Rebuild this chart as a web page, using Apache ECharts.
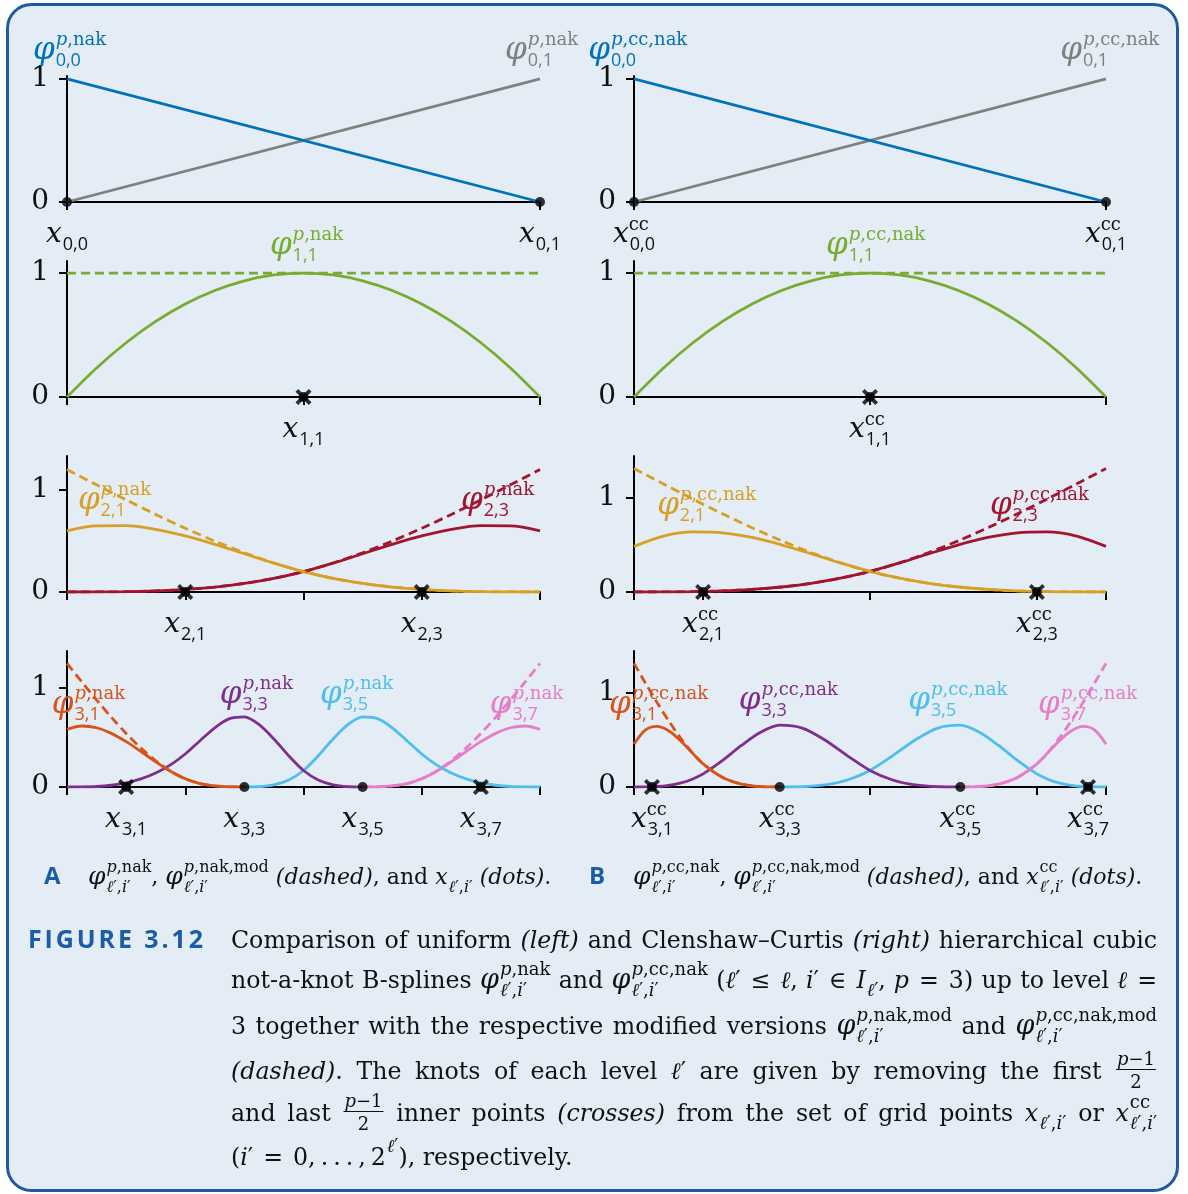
<!DOCTYPE html>
<html>
<head>
<meta charset="utf-8">
<script src="https://cdn.jsdelivr.net/npm/echarts@6/dist/echarts.min.js"></script>
<style>
  html, body { margin: 0; padding: 0; background: #ffffff; }
  #chart { width: 1188px; height: 1194px; }
</style>
</head>
<body>
<div id="chart"></div>
<script>
// ---------------- values of the basis functions ----------------
// level 0 (both grids): hat functions on [0, 1]
const xsLin = [0, 1];
const phi00 = [1, 0];
const phi01 = [0, 1];

// level 1 (both grids): quadratic bump and its modified (constant) version
const xs16 = [0, 0.0625, 0.125, 0.1875, 0.25, 0.3125, 0.375, 0.4375, 0.5,
              0.5625, 0.625, 0.6875, 0.75, 0.8125, 0.875, 0.9375, 1];
const phi11 = [0, 0.2344, 0.4375, 0.6094, 0.75, 0.8594, 0.9375, 0.9844, 1,
               0.9844, 0.9375, 0.8594, 0.75, 0.6094, 0.4375, 0.2344, 0];
const phi11mod = [1, 1];

// level 2, uniform grid (sampled on xs16)
const phi21 = [0.6, 0.6484, 0.65, 0.6141, 0.55, 0.4672, 0.375, 0.2828, 0.2,
               0.134, 0.0844, 0.0488, 0.025, 0.0105, 0.0031, 0.0004, 0];
const phi21mod = [1.2, 1.0504, 0.9031, 0.7605, 0.625, 0.4988, 0.3844, 0.284, 0.2,
                  0.134, 0.0844, 0.0488, 0.025, 0.0105, 0.0031, 0.0004, 0];
const phi23 = [0, 0.0004, 0.0031, 0.0105, 0.025, 0.0488, 0.0844, 0.134, 0.2,
               0.2828, 0.375, 0.4672, 0.55, 0.6141, 0.65, 0.6484, 0.6];
const phi23mod = [0, 0.0004, 0.0031, 0.0105, 0.025, 0.0488, 0.0844, 0.134, 0.2,
                  0.284, 0.3844, 0.4988, 0.625, 0.7605, 0.9031, 1.0504, 1.2];

// level 2, Clenshaw-Curtis grid (sampled on xs16)
const phi21cc = [0.4833, 0.5925, 0.6366, 0.6278, 0.5783, 0.5004, 0.4062, 0.308, 0.2181,
                 0.1461, 0.092, 0.0532, 0.0273, 0.0115, 0.0034, 0.0004, 0];
const phi21ccMod = [1.3084, 1.1453, 0.9847, 0.8292, 0.6815, 0.5439, 0.4191, 0.3096, 0.2181,
                    0.1461, 0.092, 0.0532, 0.0273, 0.0115, 0.0034, 0.0004, 0];
const phi23cc = [0, 0.0004, 0.0034, 0.0115, 0.0273, 0.0532, 0.092, 0.1461, 0.2181,
                 0.308, 0.4062, 0.5004, 0.5783, 0.6278, 0.6366, 0.5925, 0.4833];
const phi23ccMod = [0, 0.0004, 0.0034, 0.0115, 0.0273, 0.0532, 0.092, 0.1461, 0.2181,
                    0.3096, 0.4191, 0.5439, 0.6815, 0.8292, 0.9847, 1.1453, 1.3084];

// level 3, uniform grid
const xs32 = [0, 0.03125, 0.0625, 0.09375, 0.125, 0.15625, 0.1875, 0.21875, 0.25,
              0.28125, 0.3125, 0.34375, 0.375, 0.40625, 0.4375, 0.46875, 0.5,
              0.53125, 0.5625, 0.59375, 0.625, 0.65625, 0.6875, 0.71875, 0.75,
              0.78125, 0.8125, 0.84375, 0.875, 0.90625, 0.9375, 0.96875, 1];
const phi31 = [0.5833, 0.6165, 0.599, 0.5423, 0.4583, 0.3587, 0.2552, 0.1595, 0.0833,
               0.0352, 0.0104, 0.0013, 0, 0, 0, 0, 0,
               0, 0, 0, 0, 0, 0, 0, 0, 0, 0, 0, 0, 0, 0, 0, 0];
const phi31mod = [1.25, 1.0632, 0.8802, 0.7051, 0.5417, 0.3939, 0.2656, 0.1608, 0.0833,
                  0.0352, 0.0104, 0.0013, 0, 0, 0, 0, 0,
                  0, 0, 0, 0, 0, 0, 0, 0, 0, 0, 0, 0, 0, 0, 0, 0];
const phi33 = [0, 0.0007, 0.0052, 0.0176, 0.0417, 0.0814, 0.1406, 0.2233, 0.3333,
               0.4681, 0.599, 0.6908, 0.7083, 0.6296, 0.4844, 0.3158, 0.1667,
               0.0703, 0.0208, 0.0026, 0, 0, 0, 0, 0, 0, 0, 0, 0, 0, 0, 0, 0];
const phi35 = [0, 0, 0, 0, 0, 0, 0, 0, 0, 0, 0, 0, 0, 0.0026, 0.0208, 0.0703, 0.1667,
               0.3158, 0.4844, 0.6296, 0.7083, 0.6908, 0.599, 0.4681, 0.3333,
               0.2233, 0.1406, 0.0814, 0.0417, 0.0176, 0.0052, 0.0007, 0];
const phi37 = [0, 0, 0, 0, 0, 0, 0, 0, 0, 0, 0, 0, 0, 0, 0, 0, 0,
               0, 0, 0, 0, 0.0013, 0.0104, 0.0352, 0.0833,
               0.1595, 0.2552, 0.3587, 0.4583, 0.5423, 0.599, 0.6165, 0.5833];
const phi37mod = [0, 0, 0, 0, 0, 0, 0, 0, 0, 0, 0, 0, 0, 0, 0, 0, 0,
                  0, 0, 0, 0, 0.0013, 0.0104, 0.0352, 0.0833,
                  0.1608, 0.2656, 0.3939, 0.5417, 0.7051, 0.8802, 1.0632, 1.25];

// level 3, Clenshaw-Curtis grid
const xsCC = [0, 0.024408, 0.048816, 0.073223, 0.097631, 0.122039, 0.146447,
              0.187, 0.227553, 0.268105, 0.308658, 0.356494, 0.404329, 0.452165, 0.5,
              0.547835, 0.595671, 0.643506, 0.691342, 0.731895, 0.772447, 0.813, 0.853553,
              0.877961, 0.902369, 0.926777, 0.951184, 0.975592, 1];
const phi31cc = [0.4551, 0.6061, 0.6436, 0.5969, 0.4955, 0.3687, 0.2459,
                 0.1037, 0.0307, 0.0038, 0, 0, 0, 0, 0,
                 0, 0, 0, 0, 0, 0, 0, 0, 0, 0, 0, 0, 0, 0];
const phi31ccMod = [1.3127, 1.1024, 0.8977, 0.7041, 0.5272, 0.3726, 0.2459,
                    0.1037, 0.0307, 0.0038, 0, 0, 0, 0, 0,
                    0, 0, 0, 0, 0, 0, 0, 0, 0, 0, 0, 0, 0, 0];
const phi33cc = [0, 0.0006, 0.0051, 0.0174, 0.0412, 0.0804, 0.139,
                 0.2793, 0.4407, 0.5807, 0.6563, 0.6253, 0.499, 0.3312, 0.1756,
                 0.0741, 0.022, 0.0027, 0, 0, 0, 0, 0, 0, 0, 0, 0, 0, 0];
const phi35cc = [0, 0, 0, 0, 0, 0, 0, 0, 0, 0, 0, 0.0027, 0.022, 0.0741, 0.1756,
                 0.3312, 0.499, 0.6253, 0.6563, 0.5807, 0.4407, 0.2793, 0.139,
                 0.0804, 0.0412, 0.0174, 0.0051, 0.0006, 0];
const phi37cc = [0, 0, 0, 0, 0, 0, 0, 0, 0, 0, 0, 0, 0, 0, 0,
                 0, 0, 0, 0, 0.0038, 0.0307, 0.1037, 0.2459,
                 0.3687, 0.4955, 0.5969, 0.6436, 0.6061, 0.4551];
const phi37ccMod = [0, 0, 0, 0, 0, 0, 0, 0, 0, 0, 0, 0, 0, 0, 0,
                    0, 0, 0, 0, 0.0038, 0.0307, 0.1037, 0.2459,
                    0.3726, 0.5272, 0.7041, 0.8977, 1.1024, 1.3127];

// grid points of each level and tick positions
const gridU0 = [0, 1], gridU1 = [0.5], gridU2 = [0.25, 0.75], gridU3 = [0.125, 0.375, 0.625, 0.875];
const gridC0 = [0, 1], gridC1 = [0.5], gridC2 = [0.146447, 0.853553], gridC3 = [0.03806, 0.308658, 0.691342, 0.96194];
const ticks0 = [0, 1], ticks1 = [0, 0.5, 1];
const ticksU = [0, 0.25, 0.5, 0.75, 1];
const ticksC = [0, 0.146447, 0.5, 0.853553, 1];
const ticksY = [0, 1];
const subs0 = ['0,0', '0,1'], subs1 = ['1,1'], subs2 = ['2,1', '2,3'], subs3 = ['3,1', '3,3', '3,5', '3,7'];

// ---------------- styling ----------------
const SERIF = "'DejaVu Serif', 'Liberation Serif', serif";
const SANS = "'Open Sans', 'Noto Sans', sans-serif";
const BLUE = '#0072BD', GRAY = '#808080', GREEN = '#77AC30', GOLD = '#D6A024', RED = '#A2142F';
const ORANGE = '#D95319', PURPLE = '#7E2F8E', LBLUE = '#4DBEEE', PINK = '#E77CC7';
const INK = '#111111', FIGBLUE = '#1B5CA8';
const ROWS = [{ top: 76, h: 126 }, { top: 261, h: 136 }, { top: 456, h: 136 }, { top: 651, h: 136 }];
const COLS = [{ left: 67, w: 473 }, { left: 634, w: 472 }];

const NAK = ',nak', CCNAK = ',cc,nak';
const C = (xs, ys, color, dashed) => ({ xs, ys, color, dashed: !!dashed });

const panels = [
  { row: 0, col: 0, ymax: 1.024, ticks: ticks0,
    curves: [C(xsLin, phi01, GRAY), C(xsLin, phi00, BLUE)],
    dots: gridU0, crosses: [], xl: gridU0, xsub: subs0, cc: false,
    labels: [{ sup: NAK, sub: '0,0', color: BLUE, at: [-0.072, 1.163] },
             { sup: NAK, sub: '0,1', color: GRAY, at: [0.926, 1.163] }] },
  { row: 0, col: 1, ymax: 1.024, ticks: ticks0,
    curves: [C(xsLin, phi01, GRAY), C(xsLin, phi00, BLUE)],
    dots: gridC0, crosses: [], xl: gridC0, xsub: subs0, cc: true,
    labels: [{ sup: CCNAK, sub: '0,0', color: BLUE, at: [-0.097, 1.163] },
             { sup: CCNAK, sub: '0,1', color: GRAY, at: [0.903, 1.163] }] },
  { row: 1, col: 0, ymax: 1.097, ticks: ticks1,
    curves: [C(xs16, phi11, GREEN), C(xsLin, phi11mod, GREEN, true)],
    dots: [], crosses: gridU1, xl: gridU1, xsub: subs1, cc: false,
    labels: [{ sup: NAK, sub: '1,1', color: GREEN, at: [0.429, 1.153] }] },
  { row: 1, col: 1, ymax: 1.097, ticks: ticks1,
    curves: [C(xs16, phi11, GREEN), C(xsLin, phi11mod, GREEN, true)],
    dots: [], crosses: gridC1, xl: gridC1, xsub: subs1, cc: true,
    labels: [{ sup: CCNAK, sub: '1,1', color: GREEN, at: [0.407, 1.153] }] },
  { row: 2, col: 0, ymax: 1.333, ticks: ticksU,
    curves: [C(xs16, phi23, RED), C(xs16, phi21, GOLD), C(xs16, phi23mod, RED, true), C(xs16, phi21mod, GOLD, true)],
    dots: [], crosses: gridU2, xl: gridU2, xsub: subs2, cc: false,
    labels: [{ sup: NAK, sub: '2,1', color: GOLD, at: [0.023, 0.814] },
             { sup: NAK, sub: '2,3', color: RED, at: [0.833, 0.814] }] },
  { row: 2, col: 1, ymax: 1.442, ticks: ticksC,
    curves: [C(xs16, phi23cc, RED), C(xs16, phi21cc, GOLD), C(xs16, phi23ccMod, RED, true), C(xs16, phi21ccMod, GOLD, true)],
    dots: [], crosses: gridC2, xl: gridC2, xsub: subs2, cc: true,
    labels: [{ sup: CCNAK, sub: '2,1', color: GOLD, at: [0.049, 0.827] },
             { sup: CCNAK, sub: '2,3', color: RED, at: [0.754, 0.827] }] },
  { row: 3, col: 0, ymax: 1.375, ticks: ticksU,
    curves: [C(xs32, phi37, PINK), C(xs32, phi35, LBLUE), C(xs32, phi33, PURPLE), C(xs32, phi31, ORANGE),
             C(xs32, phi37mod, PINK, true), C(xs32, phi31mod, ORANGE, true)],
    dots: [gridU3[1], gridU3[2]], crosses: [gridU3[0], gridU3[3]], xl: gridU3, xsub: subs3, cc: false,
    labels: [{ sup: NAK, sub: '3,1', color: ORANGE, at: [-0.032, 0.748] },
             { sup: NAK, sub: '3,3', color: PURPLE, at: [0.323, 0.849] },
             { sup: NAK, sub: '3,5', color: LBLUE, at: [0.535, 0.849] },
             { sup: NAK, sub: '3,7', color: PINK, at: [0.894, 0.748] }] },
  { row: 3, col: 1, ymax: 1.444, ticks: ticksC,
    curves: [C(xsCC, phi37cc, PINK), C(xsCC, phi35cc, LBLUE), C(xsCC, phi33cc, PURPLE), C(xsCC, phi31cc, ORANGE),
             C(xsCC, phi37ccMod, PINK, true), C(xsCC, phi31ccMod, ORANGE, true)],
    dots: [gridC3[1], gridC3[2]], crosses: [gridC3[0], gridC3[3]], xl: gridC3, xsub: subs3, cc: true,
    labels: [{ sup: CCNAK, sub: '3,1', color: ORANGE, at: [-0.053, 0.786] },
             { sup: CCNAK, sub: '3,3', color: PURPLE, at: [0.222, 0.828] },
             { sup: CCNAK, sub: '3,5', color: LBLUE, at: [0.581, 0.828] },
             { sup: CCNAK, sub: '3,7', color: PINK, at: [0.856, 0.786] }] }
];

const CROSS = 'path://M2,0 L6,4 L10,0 L12,2 L8,6 L12,10 L10,12 L6,8 L2,12 L0,10 L4,6 L0,2 Z';

// keep the samples on a curve's support (plus its end points), so flat parts
// outside the support don't paint over the axis
function supportPairs(xs, ys) {
  const out = [];
  for (let k = 0; k < xs.length; k++) {
    if (ys[k] !== 0 || (k > 0 && ys[k - 1] !== 0) || (k < xs.length - 1 && ys[k + 1] !== 0)) out.push([xs[k], ys[k]]);
  }
  return out;
}

// ---------------- chart: grids, axes and series ----------------
const chart = echarts.init(document.getElementById('chart'), null, { renderer: 'canvas' });
const grid = [], xAxis = [], yAxis = [], series = [];
panels.forEach((p, i) => {
  const r = ROWS[p.row], c = COLS[p.col];
  grid.push({ left: c.left, top: r.top, width: c.w, height: r.h, containLabel: false });
  xAxis.push({
    gridIndex: i, type: 'value', min: 0, max: 1,
    axisLine: { onZero: false, lineStyle: { color: '#000', width: 2 } },
    axisTick: { show: true, customValues: p.ticks, length: 8, lineStyle: { color: '#000', width: 2 } },
    axisLabel: { show: false }, splitLine: { show: false }
  });
  yAxis.push({
    gridIndex: i, type: 'value', min: 0, max: p.ymax,
    axisLine: { show: true, onZero: false, lineStyle: { color: '#000', width: 2 } },
    axisTick: { show: true, customValues: ticksY, length: 8, lineStyle: { color: '#000', width: 2 } },
    axisLabel: { show: true, customValues: ticksY, margin: 18, fontSize: 28, fontFamily: SERIF, color: INK },
    splitLine: { show: false }
  });
  p.curves.forEach(cv => {
    series.push({
      type: 'line', xAxisIndex: i, yAxisIndex: i, silent: true,
      data: supportPairs(cv.xs, cv.ys),
      showSymbol: false, smooth: cv.xs.length > 2 ? 0.3 : false,
      lineStyle: { color: cv.color, width: 2.8, type: cv.dashed ? [9, 5] : 'solid' },
      itemStyle: { color: cv.color }, z: cv.dashed ? 4 : 3
    });
  });
  const markerPts = p.dots.concat(p.crosses);
  if (markerPts.length) {
    series.push({ type: 'scatter', xAxisIndex: i, yAxisIndex: i, silent: true, z: 6,
      data: markerPts.map(x => [x, 0]), symbol: 'circle', symbolSize: 10, itemStyle: { color: '#000' } });
  }
  if (p.crosses.length) {
    series.push({ type: 'scatter', xAxisIndex: i, yAxisIndex: i, silent: true, z: 7,
      data: p.crosses.map(x => [x, 0]), symbol: CROSS, symbolSize: 16, itemStyle: { color: '#000' } });
  }
});

chart.setOption({
  animation: false,
  backgroundColor: '#ffffff',
  grid, xAxis, yAxis, series
});

// ---------------- typesetting helpers for the formula labels ----------------
const mctx = document.createElement('canvas').getContext('2d');
function measure(s, font) { mctx.font = font; return mctx.measureText(s).width; }
const offCache = {};
function midOff(font) {
  if (offCache[font] != null) return offCache[font];
  mctx.font = font;
  mctx.textBaseline = 'alphabetic';
  const a = mctx.measureText('Hx').actualBoundingBoxAscent;
  mctx.textBaseline = 'middle';
  const b = mctx.measureText('Hx').actualBoundingBoxAscent;
  mctx.textBaseline = 'alphabetic';
  return (offCache[font] = a - b);
}
function fnt(kind, size) {
  if (kind === 'i') return 'italic normal ' + size + 'px ' + SERIF;
  if (kind === 's') return 'normal normal ' + size + 'px ' + SANS;
  if (kind === 'b') return 'normal bold ' + size + 'px ' + SANS;
  return 'normal normal ' + size + 'px ' + SERIF;
}
const gfx = [];
function putText(s, x, base, font, color) {
  gfx.push({ type: 'text', silent: true, z: 50,
    style: { text: s, x: x, y: base - midOff(font), font: font, fill: color, align: 'left', verticalAlign: 'middle' } });
  return measure(s, font);
}
function runsW(runs, size) { return runs.reduce((w, r) => w + measure(r[0], fnt(r[1], size)), 0); }
function putRuns(runs, x, base, size, color) {
  runs.forEach(r => { x += putText(r[0], x, base, fnt(r[1], size), color); });
  return x;
}
// the letter φ is set a bit larger than the surrounding text
function baseSize(m, sz) { return m.base === 'φ' ? Math.round(sz.base * (sz.phiScale || 1)) : sz.base; }
function mathW(m, sz) {
  const bw = measure(m.base, fnt(m.bk || 'i', baseSize(m, sz)));
  const sw = Math.max(m.sup ? runsW(m.sup, sz.script) + (sz.supShift || 0) : 0,
                      m.sub ? runsW(m.sub, sz.script) + (sz.subShift || 0) : 0);
  return bw + sz.kern + sw;
}
function putMath(m, x, base, sz, color) {
  const bw = putText(m.base, x, base, fnt(m.bk || 'i', baseSize(m, sz)), color);
  const sx = x + bw + sz.kern;
  if (m.sup) putRuns(m.sup, sx + (sz.supShift || 0), base - sz.rise, sz.script, color);
  if (m.sub) putRuns(m.sub, sx + (sz.subShift || 0), base + sz.drop, sz.script, color);
  return mathW(m, sz);
}
function pieceW(p, sz) {
  if (p.k === 't') return measure(p.s, fnt(p.f, sz.base));
  if (p.k === 'sp') return p.w;
  if (p.k === 'm') return mathW(p, sz);
  return Math.max(runsW(p.num, sz.script), runsW(p.den, sz.script)) + 4;
}
function putPiece(p, x, base, sz, color) {
  if (p.k === 't') return putText(p.s, x, base, fnt(p.f, sz.base), color);
  if (p.k === 'sp') return p.w;
  if (p.k === 'm') return putMath(p, x, base, sz, color);
  const nw = runsW(p.num, sz.script), dw = runsW(p.den, sz.script);
  const w = Math.max(nw, dw) + 4;
  putRuns(p.num, x + (w - nw) / 2, base - sz.fracNum, sz.script, color);
  putRuns(p.den, x + (w - dw) / 2, base + sz.fracDen, sz.script, color);
  gfx.push({ type: 'line', silent: true, z: 50,
    shape: { x1: x + 1, y1: base - sz.fracBar, x2: x + w - 1, y2: base - sz.fracBar },
    style: { stroke: color, lineWidth: 1.2 } });
  return w;
}
function putLine(words, x0, base, sz, color, target) {
  const ws = words.map(w => w.reduce((a, p) => a + pieceW(p, sz), 0));
  const sum = ws.reduce((a, b) => a + b, 0);
  const gap = target ? (target - sum) / (words.length - 1) : measure(' ', fnt('r', sz.base));
  let x = x0;
  words.forEach(w => { w.forEach(p => { x += putPiece(p, x, base, sz, color); }); x += gap; });
}

// ---------------- frame ----------------
gfx.push({ type: 'rect', silent: true, z: -10,
  shape: { x: 7.5, y: 4.5, width: 1170, height: 1186, r: 24 },
  style: { fill: '#E4ECF5', stroke: '#1D5AA3', lineWidth: 3 } });

// ---------------- panel labels ----------------
const PHI_SZ = { base: 26, phiScale: 1.18, script: 18, rise: 14, drop: 7, kern: 1 };
const X_SZ = { base: 28, script: 18, rise: 12, drop: 8, kern: 0, subShift: 1 };
panels.forEach((p, i) => {
  p.labels.forEach(lb => {
    const pt = chart.convertToPixel({ gridIndex: i }, lb.at);
    putMath({ base: 'φ', sup: [['p', 'i'], [lb.sup, 'r']], sub: [[lb.sub, 's']] }, pt[0], pt[1], PHI_SZ, lb.color);
  });
  p.xl.forEach((v, k) => {
    const pt = chart.convertToPixel({ gridIndex: i }, [v, 0]);
    const m = { base: 'x', sup: p.cc ? [['cc', 'r']] : null, sub: [[p.xsub[k], 's']] };
    const w = mathW(m, X_SZ);
    putMath(m, pt[0] - w / 2, pt[1] + 40, X_SZ, INK);
  });
});

// ---------------- captions ----------------
const T = s => ({ k: 't', s: s, f: 'r' });
const TI = s => ({ k: 't', s: s, f: 'i' });
const SP = w => ({ k: 'sp', w: w });
const LI = [['ℓ', 'i'], ['′', 'r'], [',', 'r'], ['i', 'i'], ['′', 'r']];
const PHI = (sup, sub) => ({ k: 'm', base: 'φ', sup: [['p', 'i'], [sup, 'r']], sub: sub });
const XM = (sup, sub) => ({ k: 'm', base: 'x', sup: sup ? [[sup, 'r']] : null, sub: sub });
const FRAC = { k: 'frac', num: [['p', 'i'], ['−1', 'r']], den: [['2', 'r']] };

const line1 = [[T('Comparison')], [T('of')], [T('uniform')], [TI('(left)')], [T('and')],
  [T('Clenshaw–Curtis')], [TI('(right)')], [T('hierarchical')], [T('cubic')]];
// caption size chosen so that the first (justified) line fills the text block
let capSize = 22;
{
  const s0 = { base: 22, script: 16 };
  const nat = line1.reduce((a, w) => a + w.reduce((b, p) => b + pieceW(p, s0), 0), 0)
            + (line1.length - 1) * measure(' ', fnt('r', 22));
  capSize = Math.max(19, Math.min(26, 22 * 915 / nat));
}
const CAP = { base: capSize, phiScale: 1.15, script: 18, rise: 13, drop: 8, kern: 1,
              fracNum: 14, fracDen: 9, fracBar: 9.5 };
const TX0 = 231, TW = 926;
const REL = 10, COMMA = 8;   // fixed spacing inside inline formulas

putLine(line1, TX0, 948, CAP, INK, TW);
putLine([[T('not-a-knot')], [T('B-splines')], [PHI(',nak', LI)], [T('and')], [PHI(',cc,nak', LI)],
  [T('('), TI('ℓ'), T('′'), SP(REL), T('≤'), SP(REL), TI('ℓ'), T(','), SP(COMMA), TI('i'), T('′'), SP(REL), T('∈'), SP(REL),
   { k: 'm', base: 'I', sub: [['ℓ', 'i'], ['′', 'r']] }, T(','), SP(COMMA), TI('p'), SP(REL), T('='), SP(REL), T('3)')],
  [T('up')], [T('to')], [T('level')], [TI('ℓ'), SP(REL), T('=')]], TX0, 988, CAP, INK, TW);
putLine([[T('3')], [T('together')], [T('with')], [T('the')], [T('respective')], [T('modified')],
  [T('versions')], [PHI(',nak,mod', LI)], [T('and')], [PHI(',cc,nak,mod', LI)]], TX0, 1034, CAP, INK, TW);
putLine([[TI('(dashed)'), T('.')], [T('The')], [T('knots')], [T('of')], [T('each')], [T('level')],
  [TI('ℓ'), T('′')], [T('are')], [T('given')], [T('by')], [T('removing')], [T('the')], [T('first')], [FRAC]],
  TX0, 1079, CAP, INK, TW);
putLine([[T('and')], [T('last')], [FRAC], [T('inner')], [T('points')], [TI('(crosses)')], [T('from')],
  [T('the')], [T('set')], [T('of')], [T('grid')], [T('points')], [XM(null, LI)], [T('or')], [XM('cc', LI)]],
  TX0, 1121, CAP, INK, TW);
putLine([[T('('), TI('i'), T('′'), SP(REL), T('='), SP(REL), T('0,'), SP(5), T('.'), SP(5), T('.'), SP(5), T('.'), SP(5), T(','), SP(5),
  { k: 'm', base: '2', bk: 'r', sup: [['ℓ', 'i'], ['′', 'r']] }, T('),')], [T('respectively.')]],
  TX0, 1165, CAP, INK, null);

// figure number, letter-spaced bold sans
{
  const f = fnt('b', 25);
  const label = 'FIGURE 3.12';
  const natural = measure(label, f);
  const ls = Math.max(0, (175 - natural) / (label.length - 1));
  let x = 28;
  for (const ch of label) { x += putText(ch, x, 948, f, FIGBLUE) + ls; }
}

// sub-figure captions
const SUBCAP = { base: Math.round(capSize * 0.93), phiScale: 1.15, script: 16, rise: 12, drop: 8, kern: 1 };
putText('A', 44, 884, fnt('b', 24), FIGBLUE);
putLine([[PHI(',nak', LI), T(',')], [PHI(',nak,mod', LI)], [TI('(dashed)'), T(',')], [T('and')],
  [XM(null, LI)], [TI('(dots)'), T('.')]], 88, 884, SUBCAP, INK, null);
putText('B', 589, 884, fnt('b', 24), FIGBLUE);
putLine([[PHI(',cc,nak', LI), T(',')], [PHI(',cc,nak,mod', LI)], [TI('(dashed)'), T(',')], [T('and')],
  [XM('cc', LI)], [TI('(dots)'), T('.')]], 633, 884, SUBCAP, INK, null);

chart.setOption({ graphic: gfx });
</script>
</body>
</html>
